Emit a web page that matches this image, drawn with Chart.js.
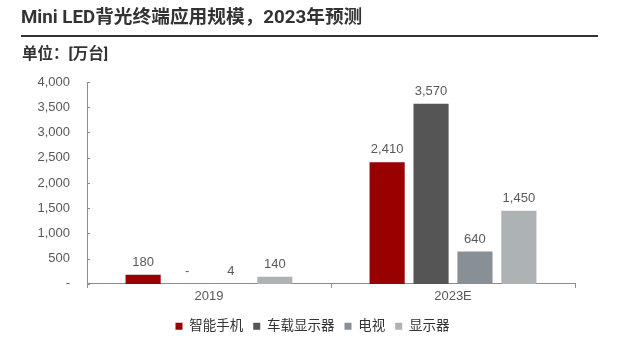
<!DOCTYPE html>
<html>
<head>
<meta charset="utf-8">
<script src="https://cdn.jsdelivr.net/npm/chart.js@4"></script>
<style>
  html, body { margin: 0; padding: 0; background: #fff; }
  #wrap { position: relative; width: 625px; height: 343px; font-family: "Liberation Sans", "Noto Sans CJK SC", sans-serif; }
  #title { position: absolute; left: 21px; top: 8px; line-height: 19px; font-family: Roboto, "Noto Sans CJK SC", sans-serif; font-size: 18.7px; font-weight: bold; color: #333; white-space: nowrap; }
  #rule { position: absolute; left: 21px; top: 35px; width: 577px; height: 2px; background: #333; }
  #unit { position: absolute; left: 22px; top: 46px; line-height: 16px; font-family: Roboto, "Noto Sans CJK SC", sans-serif; font-size: 15.5px; font-weight: bold; color: #333; white-space: nowrap; }
  canvas { position: absolute; left: 0; top: 0; }
</style>
</head>
<body>
<div id="wrap">
  <canvas id="chart" width="625" height="343"></canvas>
  <div id="title">Mini LED背光终端应用规模，2023年预测</div>
  <div id="rule"></div>
  <div id="unit">单位：[万台]</div>
</div>
<script>
const categories = ['2019', '2023E'];
const seriesNames = ['智能手机', '车载显示器', '电视', '显示器'];
const phone = [180, 2410];
const carDisplay = [0, 3570];
const tv = [4, 640];
const monitor = [140, 1450];
const colors = ['#990000', '#555555', '#899095', '#adb2b4'];
const yTicks = [0, 500, 1000, 1500, 2000, 2500, 3000, 3500, 4000];

const FONT = '"Liberation Sans", "Noto Sans CJK SC", sans-serif';

function fmt(v) {
  if (v === 0) return '-';
  return v.toLocaleString('en-US');
}

// value labels above bars
const barLabels = {
  id: 'barLabels',
  afterDatasetsDraw(chart) {
    const ctx = chart.ctx;
    ctx.save();
    ctx.font = '13px ' + FONT;
    ctx.fillStyle = '#595959';
    ctx.textAlign = 'center';
    ctx.textBaseline = 'bottom';
    chart.data.datasets.forEach((ds, i) => {
      const meta = chart.getDatasetMeta(i);
      meta.data.forEach((bar, j) => {
        ctx.fillText(fmt(ds.data[j]), bar.x, bar.y - 6);
      });
    });
    ctx.restore();
  }
};

// small tick marks pointing into the plot, like the original
const innerTicks = {
  id: 'innerTicks',
  afterDraw(chart) {
    const ctx = chart.ctx;
    const y = chart.scales.y;
    const x = chart.scales.x;
    ctx.save();
    ctx.strokeStyle = '#8c8c8c';
    ctx.lineWidth = 1;
    ctx.beginPath();
    yTicks.forEach(v => {
      const py = Math.round(y.getPixelForValue(v)) + 0.5;
      ctx.moveTo(y.right, py);
      ctx.lineTo(y.right + 3, py);
    });
    const bottom = chart.chartArea.bottom;
    for (let i = 0; i <= categories.length; i++) {
      const px = Math.round(x.left + (x.right - x.left) * i / categories.length) + 0.5;
      ctx.moveTo(px, bottom);
      ctx.lineTo(px, bottom + 4);
    }
    ctx.stroke();
    ctx.restore();
  }
};

new Chart(document.getElementById('chart'), {
  type: 'bar',
  data: {
    labels: categories,
    datasets: [phone, carDisplay, tv, monitor].map((d, i) => ({
      label: seriesNames[i],
      data: d,
      backgroundColor: colors[i],
      categoryPercentage: 0.72,
      barPercentage: 0.8
    }))
  },
  options: {
    responsive: false,
    animation: false,
    layout: { padding: { top: 82, right: 0, left: 0, bottom: 0 } },
    plugins: {
      title: { display: false },
      tooltip: { enabled: false },
      legend: {
        position: 'bottom',
        labels: {
          usePointStyle: true,
          pointStyle: 'rect',
          boxWidth: 7,
          boxHeight: 7,
          padding: 10,
          color: '#333',
          font: { family: FONT, size: 13.5 }
        }
      }
    },
    scales: {
      x: {
        grid: { display: false, drawTicks: false },
        border: { color: '#8c8c8c' },
        ticks: { color: '#595959', padding: 5, font: { family: FONT, size: 13 } }
      },
      y: {
        min: 0,
        max: 4000,
        afterFit(scale) { scale.width = 87; },
        afterBuildTicks(scale) { scale.ticks = yTicks.map(v => ({ value: v })); },
        grid: { display: false, drawTicks: false },
        border: { color: '#8c8c8c' },
        ticks: {
          color: '#595959',
          padding: 17,
          font: { family: FONT, size: 13 },
          callback: v => fmt(v)
        }
      },
      // empty right-hand spacer so the plot ends where the original does
      spacer: {
        type: 'linear',
        position: 'right',
        display: true,
        afterFit(scale) { scale.width = 50; },
        grid: { display: false, drawTicks: false },
        border: { display: false },
        ticks: { display: false }
      }
    }
  },
  plugins: [barLabels, innerTicks]
});
</script>
</body>
</html>
